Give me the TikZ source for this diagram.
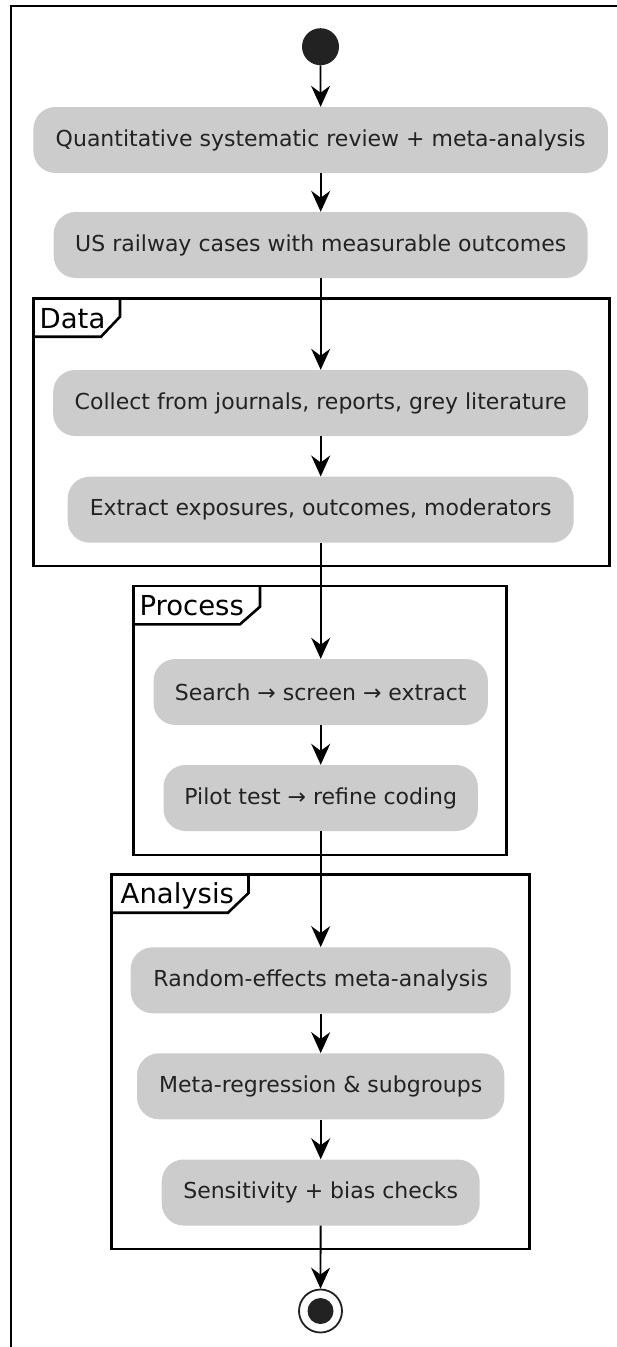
\documentclass[tikz,border=0pt]{standalone}
\usepackage{fontspec}
\setmainfont{DejaVu Sans}
\usetikzlibrary{arrows.meta}
\definecolor{boxgray}{HTML}{CCCCCC}
\definecolor{ink}{HTML}{222222}
\begin{document}
\begin{tikzpicture}[x=1pt,y=-1pt,
  actbox/.style={rectangle, rounded corners=22pt, fill=boxgray, text=ink,
    minimum height=66pt, inner xsep=6pt, inner ysep=0pt,
    font=\fontsize{22}{26}\selectfont},
  flow/.style={draw=black, line width=1.8pt,
    -{Stealth[length=21pt,width=19pt,inset=7pt]}},
  frame/.style={draw=black, line width=2.6pt},
  ptitle/.style={anchor=base west, inner sep=0pt, text=black,
    font=\fontsize{27.5}{32}\selectfont}]
\useasboundingbox (0,0) rectangle (617,1347);
\fill[white] (0,0) rectangle (617,1347);

% outer frame (open to the right and bottom)
\draw[line width=2pt] (11,1347) -- (11,6) -- (617,6);

% partitions with their title tabs
\draw[frame] (33.5,298.3) rectangle (609.5,566);
\draw[frame] (33.5,336.7) -- (101,336.7) -- (120,316.7) -- (120,298.3);
\node[ptitle] (tData) at (39.5,328) {Data};

\draw[frame] (133.3,586) rectangle (506.7,855);
\draw[frame] (133.3,624.3) -- (240,624.3) -- (260,606.7) -- (260,586);
\node[ptitle] (tProcess) at (139.3,615.5) {Process};

\draw[frame] (111.7,874.5) rectangle (529.5,1249);
\draw[frame] (111.7,912.7) -- (228,912.7) -- (248.5,893) -- (248.5,874.5);
\node[ptitle] (tAnalysis) at (120.5,903) {Analysis};

% start and end markers
\node[circle, fill=ink, minimum size=37pt, inner sep=0pt] (start) at (320.5,46.7) {};
\node[circle, draw=ink, line width=1.8pt, fill=white, minimum size=43pt, inner sep=0pt] (stop) at (320.5,1311) {};
\fill[ink] (stop.center) circle (13pt);

% activities
\node[actbox, minimum width=574.5pt] (a1) at (320.7,140) {Quantitative systematic review + meta-analysis};
\node[actbox, minimum width=534pt] (a2) at (320.7,245) {US railway cases with measurable outcomes};
\node[actbox, minimum width=535pt] (a3) at (320.7,403) {Collect from journals, reports, grey literature};
\node[actbox, minimum width=506pt] (a4) at (320.7,509.7) {Extract exposures, outcomes, moderators};
\node[actbox, minimum width=334.4pt] (a5) at (320.7,692) {Search → screen → extract};
\node[actbox, minimum width=314.4pt] (a6) at (320.7,798) {Pilot test → refine coding};
\node[actbox, minimum width=380pt] (a7) at (320.7,980.3) {Random-effects meta-analysis};
\node[actbox, minimum width=367.3pt] (a8) at (320.7,1086.3) {Meta-regression \& subgroups};
\node[actbox, minimum width=318pt] (a9) at (320.7,1192.5) {Sensitivity + bias checks};

% control flow
\draw[flow] (start) -- (a1);
\draw[flow] (a1) -- (a2);
\draw[flow] (a2) -- (a3);
\draw[flow] (a3) -- (a4);
\draw[flow] (a4) -- (a5);
\draw[flow] (a5) -- (a6);
\draw[flow] (a6) -- (a7);
\draw[flow] (a7) -- (a8);
\draw[flow] (a8) -- (a9);
\draw[flow] (a9) -- (stop);
\end{tikzpicture}
\end{document}
